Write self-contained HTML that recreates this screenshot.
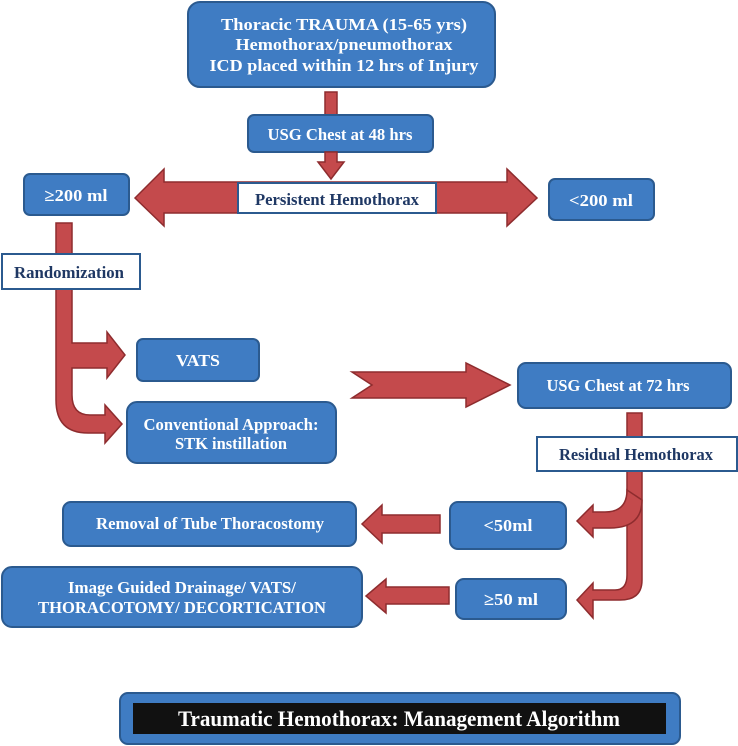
<!DOCTYPE html>
<html><head><meta charset="utf-8"><style>
html,body{margin:0;padding:0;background:#fff;}
svg{display:block;}
text{font-family:"Liberation Serif",serif;font-weight:bold;}
.b{fill:#3f7cc3;stroke:#2b5a8f;stroke-width:2;}
.w{fill:#fff;stroke:#2b5a8f;stroke-width:2;}
.r{fill:#c44a4c;stroke:#8e2c2e;stroke-width:1.5;}
.t{fill:#fff;font-size:17px;text-anchor:middle;}
.n{fill:#1f3864;font-size:17px;text-anchor:middle;}
</style></head><body>
<svg width="738" height="746" viewBox="0 0 738 746" xmlns="http://www.w3.org/2000/svg">
<rect class="b" x="188" y="2" width="307" height="85" rx="12"/>
<text class="t" x="344" y="30" textLength="246" lengthAdjust="spacingAndGlyphs">Thoracic TRAUMA (15-65 yrs)</text>
<text class="t" x="344" y="50" textLength="217" lengthAdjust="spacingAndGlyphs">Hemothorax/pneumothorax</text>
<text class="t" x="344" y="71" textLength="269" lengthAdjust="spacingAndGlyphs">ICD placed within 12 hrs of Injury</text>
<rect class="r" x="325" y="92" width="12" height="24"/>
<rect class="b" x="248" y="115" width="185" height="37" rx="6"/>
<text class="t" x="340" y="140" textLength="145" lengthAdjust="spacingAndGlyphs">USG Chest at 48 hrs</text>
<path class="r" d="M325 152 H337 V162 H344 L331 179 L318 162 H325 Z"/>
<path class="r" d="M135 198 L164 169 V182 H507 V169 L537 198 L507 226 V213 H164 V226 Z"/>
<rect class="w" x="238" y="183" width="198" height="30"/>
<text class="n" x="337" y="205" textLength="164" lengthAdjust="spacingAndGlyphs">Persistent Hemothorax</text>
<rect class="b" x="24" y="174" width="105" height="41" rx="6"/>
<text class="t" x="76" y="201" textLength="63" lengthAdjust="spacingAndGlyphs">≥200 ml</text>
<rect class="b" x="549" y="179" width="105" height="41" rx="6"/>
<text class="t" x="601" y="206" textLength="64" lengthAdjust="spacingAndGlyphs">&lt;200 ml</text>
<path class="r" d="M56 223 H72 V343 H107 V332 L125 355 L107 378 V368 H72 V395 Q72 415 90 415 H105 V405 L122 424 L105 443 V433 H88 Q56 433 56 400 Z"/>
<rect class="w" x="2" y="254" width="138" height="35"/>
<text class="n" x="69" y="278" textLength="110" lengthAdjust="spacingAndGlyphs">Randomization</text>
<rect class="b" x="137" y="339" width="122" height="42" rx="6"/>
<text class="t" x="198" y="366" textLength="44" lengthAdjust="spacingAndGlyphs">VATS</text>
<rect class="b" x="127" y="402" width="209" height="61" rx="10"/>
<text class="t" x="231" y="430" textLength="175" lengthAdjust="spacingAndGlyphs">Conventional Approach:</text>
<text class="t" x="231" y="449" textLength="112" lengthAdjust="spacingAndGlyphs">STK instillation</text>
<path class="r" d="M352 372 H466 V363 L510 385 L466 407 V398 H352 L372 385 Z"/>
<rect class="b" x="518" y="363" width="213" height="45" rx="8"/>
<text class="t" x="618" y="391" textLength="143" lengthAdjust="spacingAndGlyphs">USG Chest at 72 hrs</text>
<path class="r" d="M627 413 H642 V580 Q642 600 620 600 H593 V618 L577 600 L593 583 V590 H615 Q627 590 627 575 Z"/>
<path class="r" d="M627 490 Q627 512 605 512 H593 V505 L577 521 L593 537 V528 H610 Q642 528 642 500 Z"/>
<rect class="w" x="537" y="437" width="200" height="34"/>
<text class="n" x="636" y="460" textLength="154" lengthAdjust="spacingAndGlyphs">Residual Hemothorax</text>
<rect class="b" x="450" y="502" width="116" height="47" rx="8"/>
<text class="t" x="508" y="531" textLength="49" lengthAdjust="spacingAndGlyphs">&lt;50ml</text>
<rect class="b" x="456" y="579" width="110" height="40" rx="8"/>
<text class="t" x="511" y="605" textLength="54" lengthAdjust="spacingAndGlyphs">≥50 ml</text>
<path class="r" d="M440 515 V533 H382 V543 L362 524 L382 505 V515 Z"/>
<rect class="b" x="63" y="502" width="293" height="44" rx="8"/>
<text class="t" x="210" y="529" textLength="228" lengthAdjust="spacingAndGlyphs">Removal of Tube Thoracostomy</text>
<path class="r" d="M449 587 V604 H386 V613 L366 596 L386 579 V587 Z"/>
<rect class="b" x="2" y="567" width="360" height="60" rx="10"/>
<text class="t" x="182" y="593" textLength="228" lengthAdjust="spacingAndGlyphs">Image Guided Drainage/ VATS/</text>
<text class="t" x="182" y="613" textLength="288" lengthAdjust="spacingAndGlyphs">THORACOTOMY/ DECORTICATION</text>
<rect class="b" x="120" y="693" width="560" height="51" rx="8"/>
<rect x="133" y="703" width="533" height="31" fill="#111"/>
<text x="399" y="726" fill="#fff" font-size="22" text-anchor="middle" textLength="442" lengthAdjust="spacingAndGlyphs">Traumatic Hemothorax: Management Algorithm</text>
</svg>
</body></html>
